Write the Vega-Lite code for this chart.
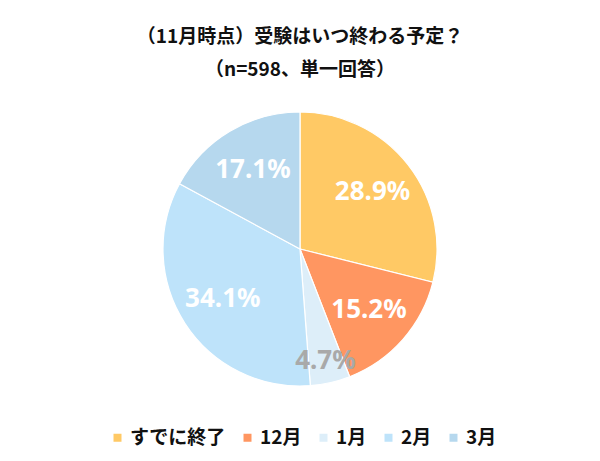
{
  "$schema": "https://vega.github.io/schema/vega-lite/v6.json",
  "width": 274,
  "height": 274,
  "autosize": {"type": "none"},
  "padding": {"top": 112, "left": 163, "right": 163, "bottom": 75},
  "background": "white",
  "title": {
    "text": ["（11月時点）受験はいつ終わる予定？", "（n=598、単一回答）"],
    "font": "Noto Sans CJK JP",
    "fontSize": 19,
    "fontWeight": "bold",
    "color": "#111111",
    "lineHeight": 33,
    "anchor": "middle",
    "offset": 30
  },
  "data": {
    "values": [
      {"category": "すでに終了", "value": 28.9, "label": "28.9%", "order": 1},
      {"category": "12月", "value": 15.2, "label": "15.2%", "order": 2},
      {"category": "1月", "value": 4.7, "label": "4.7%", "order": 3},
      {"category": "2月", "value": 34.1, "label": "34.1%", "order": 4},
      {"category": "3月", "value": 17.1, "label": "17.1%", "order": 5}
    ]
  },
  "encoding": {
    "theta": {"field": "value", "type": "quantitative", "stack": true},
    "order": {"field": "order", "type": "quantitative"}
  },
  "layer": [
    {
      "mark": {"type": "arc", "outerRadius": 137, "stroke": "white", "strokeWidth": 1.2},
      "encoding": {
        "color": {
          "field": "category",
          "type": "nominal",
          "sort": ["すでに終了", "12月", "1月", "2月", "3月"],
          "scale": {
            "domain": ["すでに終了", "12月", "1月", "2月", "3月"],
            "range": ["#FFC965", "#FF9661", "#DDEEF9", "#BEE3FA", "#B6D8EE"]
          },
          "legend": {
            "title": null,
            "orient": "none",
            "legendX": -55,
            "legendY": 316,
            "direction": "horizontal",
            "symbolType": "square",
            "symbolSize": 64,
            "symbolStrokeWidth": 0,
            "labelFont": "Noto Sans CJK JP",
            "labelFontSize": 19,
            "labelFontWeight": "bold",
            "labelColor": "#111111",
            "labelOffset": 3,
            "columnPadding": 12
          }
        }
      }
    },
    {
      "mark": {"type": "text", "radius": 92, "font": "Noto Sans", "fontSize": 26, "fontWeight": "bold", "color": "white"},
      "encoding": {
        "text": {"condition": {"test": "datum.category == '1月'", "value": ""}, "field": "label"}
      }
    },
    {
      "mark": {"type": "text", "radius": 115, "font": "Noto Sans", "fontSize": 26, "fontWeight": "bold", "color": "#A9A9A9"},
      "encoding": {
        "text": {"condition": {"test": "datum.category != '1月'", "value": ""}, "field": "label"}
      }
    }
  ],
  "config": {"view": {"stroke": null}}
}
